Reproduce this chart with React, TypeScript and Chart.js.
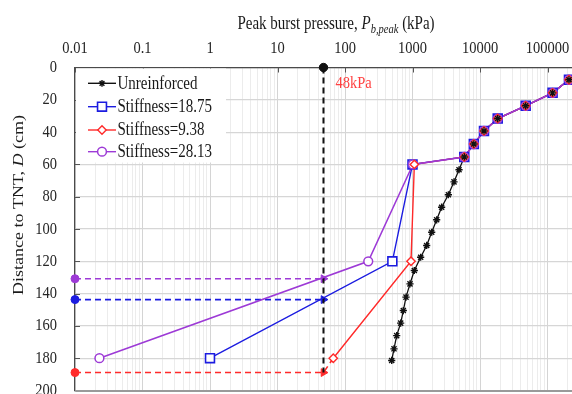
import React, { useEffect, useRef } from 'react';
import { Chart, registerables } from 'chart.js';
import { drawPoint } from 'chart.js/helpers';

Chart.register(...registerables);

// ---- tick labels ----
const xTickValues = [0.01, 0.1, 1, 10, 100, 1000, 10000, 100000];
const xTickLabels = ['0.01', '0.1', '1', '10', '100', '1000', '10000', '100000'];
const yTickValues = [0, 20, 40, 60, 80, 100, 120, 140, 160, 180, 200];
const yTickLabels = ['0', '20', '40', '60', '80', '100', '120', '140', '160', '180', '200'];

// ---- series (P in kPa, D in cm) ----
const sharedD = [7.6, 15.7, 23.7, 31.6, 39.3, 47.4, 55.4];
const sharedP = [208000, 119000, 47500, 18300, 11460, 8100, 5850];

const unreinforcedD = [...sharedD, 63.3, 70.8, 78.8, 86.5, 94.3, 102.0, 110.2, 117.5, 125.7, 134.0, 142.2, 150.5, 158.3, 166.0, 174.2, 181.4];
const unreinforcedP = [...sharedP, 4890, 4120, 3400, 2700, 2280, 1925, 1622, 1321, 1064, 918, 801, 731, 668, 583, 532, 492];

const stiff1875D = [...sharedD, 60, 120, 180];
const stiff1875P = [...sharedP, 1000, 503, 1.0];

const stiff938D = [...sharedD, 60, 120, 180];
const stiff938P = [...sharedP, 1065, 950, 67];

const stiff2813D = [...sharedD, 60, 120, 180];
const stiff2813P = [...sharedP, 1015, 221, 0.023];

// ---- threshold annotation ----
const thresholdP = 48;
const thresholdLabel = '48kPa';
const axisMinP = 0.01;
const axisMaxP = 1000000;
const cross2813D = 130.8;
const cross1875D = 143.7;
const cross938D = 188.9;

const seriesLabels = ['Unreinforced', 'Stiffness=18.75', 'Stiffness=9.38', 'Stiffness=28.13'];

const BLACK = '#111111';
const BLUE = '#1c1ce0';
const RED = '#ff2a2a';
const PURPLE = '#9d3ad6';
const SERIF = "'Liberation Serif', 'Times New Roman', serif";
const STRETCH = 1.2;

const toXY = (xs: number[], ys: number[]) => xs.map((x, i) => ({ x, y: ys[i] }));

const isDecade = (v: number) => Math.abs(Math.log10(v) - Math.round(Math.log10(v))) < 1e-6;

const drawText = (ctx: CanvasRenderingContext2D, text: string, x: number, y: number, font: string, align: CanvasTextAlign, baseline: CanvasTextBaseline) => {
  ctx.save();
  ctx.translate(x, y);
  ctx.scale(1, STRETCH);
  ctx.font = font;
  ctx.textAlign = align;
  ctx.textBaseline = baseline;
  ctx.fillText(text, 0, 0);
  ctx.restore();
};

export default function App() {
  const ref = useRef<HTMLCanvasElement | null>(null);

  useEffect(() => {
    if (!ref.current) return;

    const minorTicks: number[] = [];
    for (let e = -2; e <= 5; e++) {
      for (let m = 1; m <= 9; m++) minorTicks.push(m * Math.pow(10, e));
    }
    minorTicks.push(axisMaxP);

    let order = 100;
    const nextOrder = () => order--;

    const dashDs = (pts: { x: number; y: number }[], color: string, styles: any[], radii: number[], rot: number[], width = 1.6) => ({
      data: pts,
      showLine: true,
      borderColor: color,
      borderWidth: width,
      borderDash: [6, 4],
      pointStyle: styles,
      pointRadius: radii,
      pointRotation: rot,
      pointBackgroundColor: color,
      pointBorderColor: color,
      pointBorderWidth: 1,
      clip: false as any,
      order: nextOrder(),
    });

    const lineDs = (pts: { x: number; y: number }[], color: string, width: number) => ({
      data: pts,
      showLine: true,
      borderColor: color,
      borderWidth: width,
      pointRadius: 0,
      order: nextOrder(),
    });

    const markDs = (pts: { x: number; y: number }[], color: string, style: string, r: number, bw: number, fill: string) => ({
      data: pts,
      showLine: false,
      pointStyle: style,
      pointRadius: r,
      pointBorderColor: color,
      pointBackgroundColor: fill,
      pointBorderWidth: bw,
      order: nextOrder(),
    });

    const datasets: any[] = [
      dashDs([{ x: axisMinP, y: cross2813D }, { x: thresholdP, y: cross2813D }], PURPLE, ['circle', 'triangle'], [4, 4.5], [0, 90]),
      dashDs([{ x: axisMinP, y: cross1875D }, { x: thresholdP, y: cross1875D }], BLUE, ['circle', 'triangle'], [4, 4.5], [0, 90]),
      dashDs([{ x: axisMinP, y: cross938D }, { x: thresholdP, y: cross938D }, { x: stiff938P[stiff938P.length - 1], y: stiff938D[stiff938D.length - 1] }], RED, ['circle', 'triangle', 'circle'], [4, 4.5, 0], [0, 90, 0]),
      dashDs([{ x: thresholdP, y: 0 }, { x: thresholdP, y: cross938D }], BLACK, ['circle', 'circle'], [4.2, 0], [0, 0], 2),
      lineDs(toXY(unreinforcedP, unreinforcedD), BLACK, 1.3),
      lineDs(toXY(stiff1875P, stiff1875D), BLUE, 1.4),
      lineDs(toXY(stiff938P, stiff938D), RED, 1.4),
      lineDs(toXY(stiff2813P, stiff2813D), PURPLE, 1.5),
      markDs(toXY(stiff1875P, stiff1875D), BLUE, 'rect', 6.3, 1.6, '#ffffff'),
      markDs(toXY(stiff2813P, stiff2813D), PURPLE, 'circle', 4.4, 1.5, '#ffffff'),
      markDs(toXY(stiff938P, stiff938D), RED, 'rectRot', 4.2, 1.4, '#ffffff'),
      markDs(toXY(unreinforcedP, unreinforcedD), BLACK, 'star', 3.6, 1.4, BLACK),
    ];

    const decorPlugin = {
      id: 'decor',
      beforeDatasetsDraw(chart: any) {
        const { ctx, chartArea, scales } = chart;
        const xs = scales.x;
        const ys = scales.y;
        ctx.save();
        // inner tick marks
        ctx.strokeStyle = '#555';
        ctx.lineWidth = 1;
        xTickValues.forEach((v) => {
          const px = Math.round(xs.getPixelForValue(v)) + 0.5;
          ctx.beginPath();
          ctx.moveTo(px, chartArea.top);
          ctx.lineTo(px, chartArea.top + 5);
          ctx.stroke();
        });
        yTickValues.forEach((d) => {
          if (d === 0 || d === 200) return;
          const py = Math.round(ys.getPixelForValue(d)) + 0.5;
          ctx.beginPath();
          ctx.moveTo(chartArea.left, py);
          ctx.lineTo(chartArea.left + 5, py);
          ctx.stroke();
        });
        // legend box
        const lx = chartArea.left + 1;
        const ly = chartArea.top + 1;
        ctx.fillStyle = '#ffffff';
        ctx.fillRect(lx, ly, 150, 94);
        const rows = [
          { color: BLACK, style: 'star', r: 3.4, bw: 1.4, fill: BLACK },
          { color: BLUE, style: 'rect', r: 6.3, bw: 1.6, fill: '#ffffff' },
          { color: RED, style: 'rectRot', r: 4.2, bw: 1.4, fill: '#ffffff' },
          { color: PURPLE, style: 'circle', r: 4.4, bw: 1.5, fill: '#ffffff' },
        ];
        const rowY = [15.8, 39.2, 62.5, 84.2];
        rows.forEach((row, i) => {
          const y = chartArea.top + rowY[i];
          const x0 = chartArea.left + 13;
          const x1 = chartArea.left + 41;
          ctx.strokeStyle = row.color;
          ctx.lineWidth = 1.4;
          ctx.setLineDash([]);
          ctx.beginPath();
          ctx.moveTo(x0, y);
          ctx.lineTo(x1, y);
          ctx.stroke();
          ctx.fillStyle = row.fill;
          ctx.strokeStyle = row.color;
          ctx.lineWidth = row.bw;
          drawPoint(ctx, { pointStyle: row.style as any, rotation: 0, radius: row.r, borderWidth: row.bw }, (x0 + x1) / 2, y);
          ctx.fillStyle = '#1a1a1a';
          drawText(ctx, seriesLabels[i], x1 + 1.5, y + 0.5, `15px ${SERIF}`, 'left', 'middle');
        });
        ctx.restore();
      },
      afterDraw(chart: any) {
        const { ctx, chartArea, scales } = chart;
        const xs = scales.x;
        const ys = scales.y;
        ctx.save();

        // tick labels
        ctx.fillStyle = '#262626';
        const tickFont = `14.5px ${SERIF}`;
        xTickValues.forEach((v, i) => {
          drawText(ctx, xTickLabels[i], xs.getPixelForValue(v), 48, tickFont, 'center', 'middle');
        });
        yTickValues.forEach((d, i) => {
          drawText(ctx, yTickLabels[i], chartArea.left - 18, ys.getPixelForValue(d), tickFont, 'right', 'middle');
        });

        // threshold label
        ctx.fillStyle = '#ff4040';
        drawText(ctx, thresholdLabel, xs.getPixelForValue(thresholdP) + 12, chartArea.top + 15.5, `14.5px ${SERIF}`, 'left', 'middle');

        // x axis title
        ctx.fillStyle = '#1a1a1a';
        const big = `15px ${SERIF}`;
        const bigIt = `italic 15px ${SERIF}`;
        const smallIt = `italic 10.5px ${SERIF}`;
        const parts = [
          { t: 'Peak burst pressure, ', f: big, dy: 0 },
          { t: 'P', f: bigIt, dy: 0 },
          { t: 'b,peak', f: smallIt, dy: 4 },
          { t: ' (kPa)', f: big, dy: 0 },
        ];
        let total = 0;
        parts.forEach((p) => {
          ctx.font = p.f;
          total += ctx.measureText(p.t).width;
        });
        let x = 336 - total / 2;
        const base = 29.3;
        parts.forEach((p) => {
          ctx.font = p.f;
          const w = ctx.measureText(p.t).width;
          drawText(ctx, p.t, x, base + p.dy, p.f, 'left', 'alphabetic');
          x += w;
        });

        // y axis title (rotated, stretched along the vertical)
        const yparts = [
          { t: 'Distance to TNT, ', f: big },
          { t: 'D', f: bigIt },
          { t: ' (cm)', f: big },
        ];
        let ytot = 0;
        yparts.forEach((p) => {
          ctx.font = p.f;
          ytot += ctx.measureText(p.t).width;
        });
        ctx.save();
        ctx.translate(22.5, 205);
        ctx.rotate(-Math.PI / 2);
        ctx.scale(STRETCH, 1);
        ctx.textAlign = 'left';
        ctx.textBaseline = 'alphabetic';
        let yx = -ytot / 2;
        yparts.forEach((p) => {
          ctx.font = p.f;
          ctx.fillText(p.t, yx, 0);
          yx += ctx.measureText(p.t).width;
        });
        ctx.restore();
        ctx.restore();
      },
    };

    const zeroPad = (scale: any) => {
      scale.paddingTop = 0;
      scale.paddingBottom = 0;
      scale.paddingLeft = 0;
      scale.paddingRight = 0;
    };

    const chart = new Chart(ref.current, {
      type: 'scatter',
      data: { datasets },
      plugins: [decorPlugin],
      options: {
        responsive: false,
        animation: false,
        layout: { autoPadding: false, padding: { top: 0, left: 0, right: 5, bottom: 3.5 } },
        plugins: { legend: { display: false }, tooltip: { enabled: false } },
        scales: {
          x: {
            type: 'logarithmic',
            position: 'top',
            min: axisMinP,
            max: axisMaxP,
            afterBuildTicks: (scale: any) => {
              scale.ticks = minorTicks.map((v) => ({ value: v, major: isDecade(v) }));
            },
            afterFit: (scale: any) => {
              scale.height = 67.5;
              zeroPad(scale);
            },
            ticks: { display: false, autoSkip: false, maxRotation: 0 },
            grid: {
              drawTicks: false,
              color: (c: any) => (c.tick && isDecade(c.tick.value) ? '#d4d4d4' : '#ececec'),
              lineWidth: 1,
            },
            border: { display: true, color: '#4a4a4a', width: 1.2 },
          },
          y: {
            type: 'linear',
            reverse: true,
            min: 0,
            max: 200,
            afterBuildTicks: (scale: any) => {
              scale.ticks = yTickValues.map((v) => ({ value: v }));
            },
            afterFit: (scale: any) => {
              scale.width = 75;
              zeroPad(scale);
            },
            ticks: { display: false },
            grid: {
              drawTicks: false,
              color: (c: any) => (c.tick && c.tick.value === 200 ? '#9a9a9a' : '#d6d6d6'),
              lineWidth: (c: any) => (c.tick && c.tick.value === 200 ? 2 : 1.2),
            },
            border: { display: true, color: '#4a4a4a', width: 1.2 },
          },
        },
      },
    } as any);

    return () => chart.destroy();
  }, []);

  return (
    <div style={{ position: 'absolute', left: 0, top: 0, width: 572, height: 394, overflow: 'hidden', background: '#fff' }}>
      <canvas ref={ref} width={620} height={394} style={{ display: 'block' }} />
    </div>
  );
}
